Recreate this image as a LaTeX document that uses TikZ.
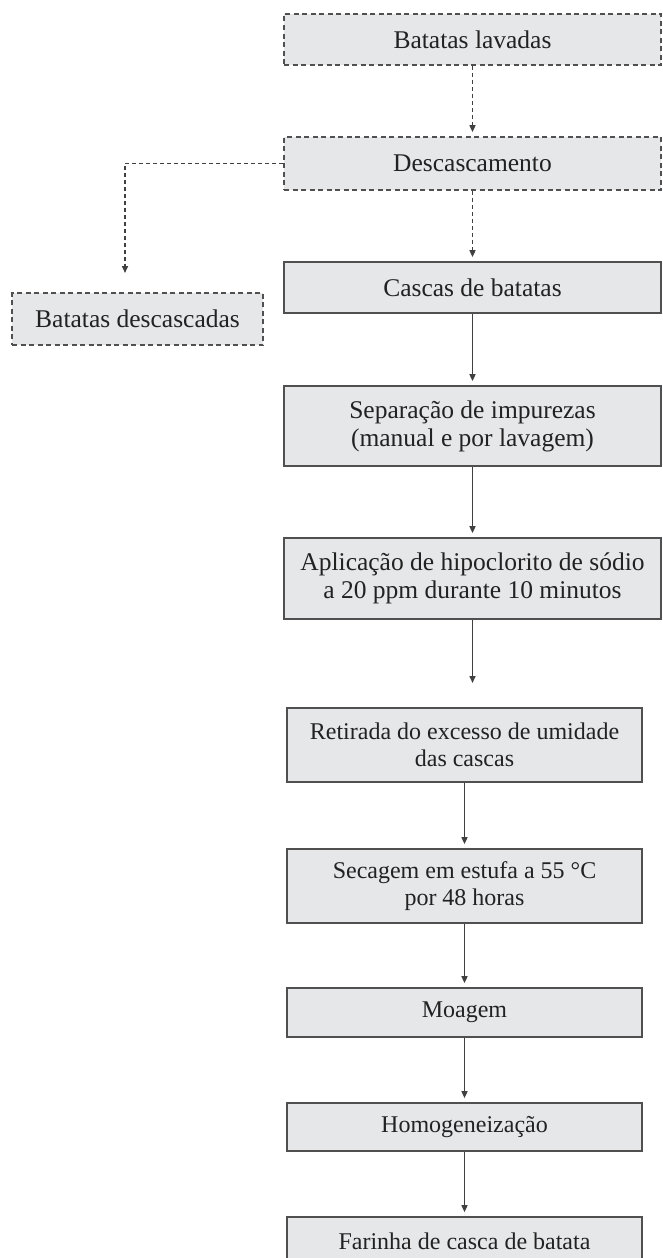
\documentclass[tikz,border=0pt]{standalone}
\usepackage{fontspec}
\setmainfont{Liberation Serif}
\usetikzlibrary{arrows.meta}
\definecolor{boxfill}{HTML}{E6E7E9}
\definecolor{boxline}{HTML}{505050}
\definecolor{txt}{HTML}{222222}
\definecolor{arrline}{HTML}{404040}
\begin{document}
\begin{tikzpicture}[x=1pt,y=-1pt,
  box/.style={draw=boxline, fill=boxfill, line width=1.7pt, text=txt, align=center, inner sep=0pt,
    font=\fontsize{25.5}{28}\selectfont},
  dbox/.style={box, dash pattern=on 5pt off 3.5pt},
  upbox/.style={box, minimum width=377pt},
  lowbox/.style={box, minimum width=355pt, font=\fontsize{24}{26.5}\selectfont},
  arr/.style={draw=arrline, line width=1.5pt, -{Triangle[length=7pt,width=6pt]}, shorten >=4pt},
  darr/.style={arr, dash pattern=on 4pt off 3pt}]
\useasboundingbox (0,0) rectangle (662,1258);
\fill[white] (0,0) rectangle (662,1258);

\node[dbox, minimum width=377pt, minimum height=51pt] (lav) at (472.5,39.5) {Batatas lavadas};
\node[dbox, minimum width=377pt, minimum height=53pt] (desc) at (472.5,163.5) {Descascamento};
\node[upbox, minimum height=51pt] (casc) at (472.5,287.5) {Cascas de batatas};
\node[dbox, minimum width=251pt, minimum height=52pt] (bdesc) at (137.5,319) {Batatas descascadas};
\node[upbox, minimum height=80pt] (sep) at (472.5,426) {Separação de impurezas\\(manual e por lavagem)};
\node[upbox, minimum height=81pt] (apl) at (472.5,578.5) {Aplicação de hipoclorito de sódio\\a 20 ppm durante 10 minutos};
\node[lowbox, minimum height=74pt] (ret) at (464.5,745) {Retirada do excesso de umidade\\das cascas};
\node[lowbox, minimum height=74pt] (sec) at (464.5,886) {Secagem em estufa a 55 °C\\por 48 horas};
\node[lowbox, minimum height=49pt] (moa) at (464.5,1012.5) {Moagem};
\node[lowbox, minimum height=48pt] (hom) at (464.5,1127) {Homogeneização};
\node[lowbox, minimum height=49pt] (far) at (464.5,1241.5) {Farinha de casca de batata};

\coordinate (bt) at (125,273);
\coordinate (ae) at (472.5,683);

\draw[darr] (lav.south) -- (desc.north);
\draw[darr] (desc.south) -- (casc.north);
\draw[darr, shorten >=0pt] (desc.west) -| (bt);
\draw[arr] (casc.south) -- (sep.north);
\draw[arr] (sep.south) -- (apl.north);
\draw[arr, shorten >=0pt] (apl.south) -- (ae);
\draw[arr] (ret.south) -- (sec.north);
\draw[arr] (sec.south) -- (moa.north);
\draw[arr] (moa.south) -- (hom.north);
\draw[arr] (hom.south) -- (far.north);
\end{tikzpicture}
\end{document}
